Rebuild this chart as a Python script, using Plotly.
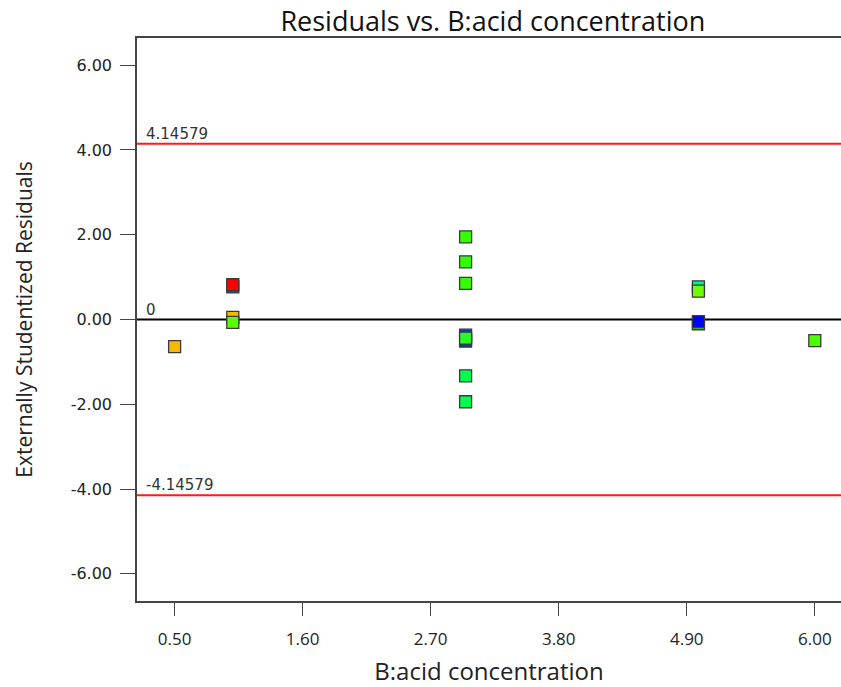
import plotly.graph_objects as go

# Residuals by acid concentration (drawing order matters: later points sit on top)
acid_conc = [0.5, 1.0, 1.0, 1.0, 1.0,
             3.0, 3.0, 3.0, 3.0, 3.0, 3.0, 3.0, 3.0,
             5.0, 5.0, 5.0, 5.0, 6.0]
residuals = [-0.64, 0.77, 0.82, 0.05, -0.07,
             1.95, 1.36, 0.85, -0.37, -0.51, -0.44, -1.33, -1.94,
             0.77, 0.67, -0.10, -0.05, -0.50]
point_colors = ["#f7b900", "#1048c8", "#ff0000", "#f7b900", "#5cff00",
                "#33ff00", "#33ff00", "#33ff00", "#0a3fb0", "#0a3fb0", "#22ff22", "#00ff4c", "#00ff4c",
                "#00f590", "#70ff00", "#40e000", "#0000ff", "#4cff00"]

# Outlier limits and reference line
limit_values = [4.14579, -4.14579]
limit_labels = ["4.14579", "-4.14579"]
zero_value = 0
zero_label = "0"

x_ticks = [0.5, 1.6, 2.7, 3.8, 4.9, 6.0]
x_tick_text = ["0.50", "1.60", "2.70", "3.80", "4.90", "6.00"]
y_ticks = [-6, -4, -2, 0, 2, 4, 6]
y_tick_text = ["-6.00", "-4.00", "-2.00", "0.00", "2.00", "4.00", "6.00"]

x_range = [0.177, 6.225]
y_range = [-6.64, 6.64]

fig = go.Figure()

for val in limit_values:
    fig.add_trace(go.Scatter(x=x_range, y=[val, val], mode="lines",
                             line=dict(color="#ff1a1a", width=2),
                             hoverinfo="skip", showlegend=False))
fig.add_trace(go.Scatter(x=x_range, y=[zero_value, zero_value], mode="lines",
                         line=dict(color="#000000", width=2),
                         hoverinfo="skip", showlegend=False))

fig.add_trace(go.Scatter(
    x=acid_conc, y=residuals, mode="markers",
    marker=dict(symbol="square", size=12, color=point_colors,
                line=dict(color="#3a3a3a", width=1.3)),
    showlegend=False))

label_font = dict(family="DejaVu Sans", size=15, color="#333333")
for val, txt in zip(limit_values, limit_labels):
    fig.add_annotation(x=x_range[0], y=val, text=txt, showarrow=False,
                       xanchor="left", yanchor="bottom", xshift=7, yshift=-1,
                       font=label_font)
fig.add_annotation(x=x_range[0], y=zero_value, text=zero_label, showarrow=False,
                   xanchor="left", yanchor="bottom", xshift=7, yshift=-1,
                   font=label_font)

fig.update_layout(
    width=841, height=687,
    margin=dict(l=137, r=0, t=38, b=86),
    paper_bgcolor="white", plot_bgcolor="white",
    title=dict(text="Residuals vs. B:acid concentration",
               x=0.586, xanchor="center", y=0.969, yanchor="middle",
               font=dict(family="Open Sans", size=27, color="#111111")),
    xaxis=dict(range=x_range, tickvals=x_ticks, ticktext=x_tick_text,
               showgrid=False, zeroline=False,
               showline=True, linecolor="#444444", linewidth=1.5, mirror=True,
               ticks="outside", ticklen=13, tickcolor="#444444", tickwidth=1,
               ticklabelstandoff=9,
               tickfont=dict(family="Open Sans", size=17, color="#222222"),
               title=dict(text="B:acid concentration", standoff=14,
                          font=dict(family="Open Sans", size=24, color="#222222"))),
    yaxis=dict(range=y_range, tickvals=y_ticks, ticktext=y_tick_text,
               showgrid=False, zeroline=False,
               showline=True, linecolor="#444444", linewidth=1.5,
               ticks="outside", ticklen=15, tickcolor="#444444", tickwidth=1,
               ticklabelstandoff=5,
               tickfont=dict(family="DejaVu Sans", size=16, color="#222222"),
               title=dict(text="Externally Studentized Residuals", standoff=32,
                          font=dict(family="Open Sans", size=21, color="#222222"))),
)

fig.write_html("out.html")
